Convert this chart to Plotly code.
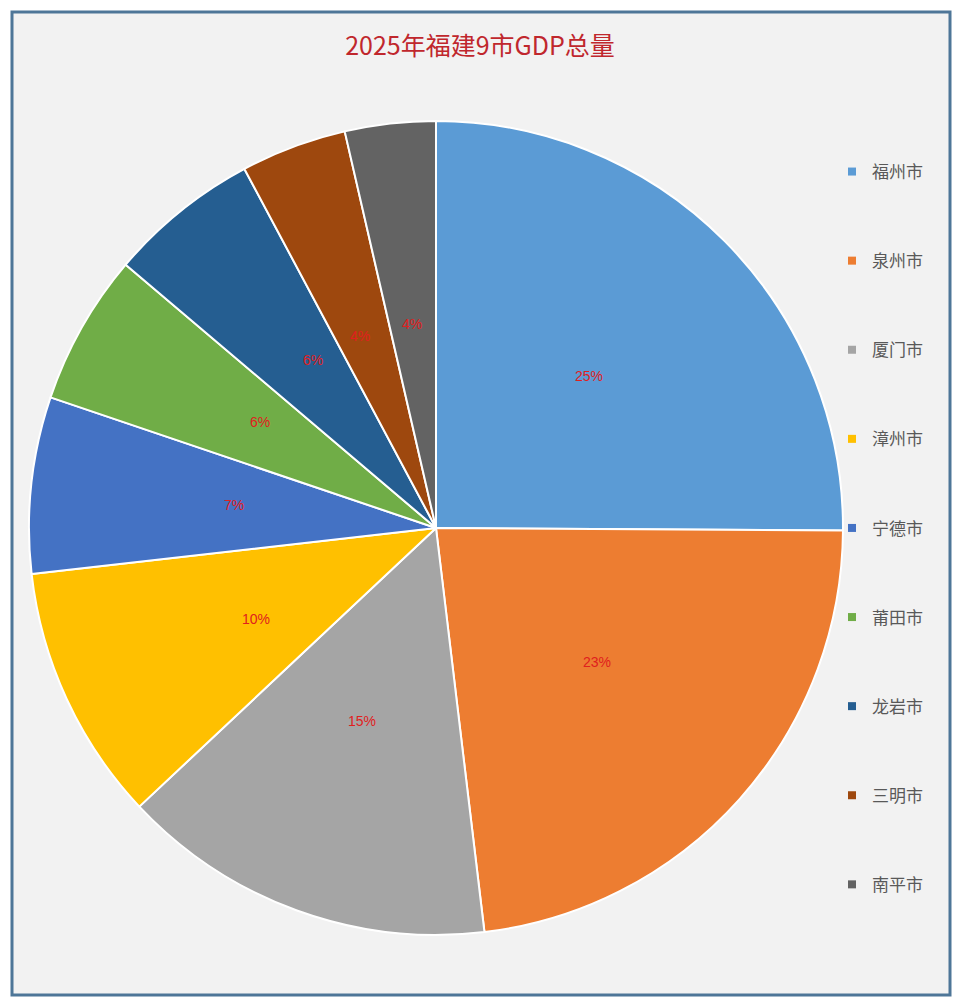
import math
import plotly.graph_objects as go

cities = ["福州市", "泉州市", "厦门市", "漳州市", "宁德市", "莆田市", "龙岩市", "三明市", "南平市"]
share = [25.1, 23.0, 14.9, 10.2, 7.0, 6.0, 6.0, 4.2, 3.6]
colors = ["#5B9BD5", "#ED7D31", "#A5A5A5", "#FFC000", "#4472C4", "#70AD47", "#255E91", "#9E480E", "#636363"]
title_text = "2025年福建9市GDP总量"

W, H = 960, 1002
ml, mr, mt, mb = 12, 10, 12, 7
pw, ph = W - ml - mr, H - mt - mb

# pie geometry (pixels)
pcx, pcy, pr = 436, 528, 407
dom_x = [(pcx - pr - ml) / pw, (pcx + pr - ml) / pw]
dom_y = [(H - mb - (pcy + pr)) / ph, (H - mb - (pcy - pr)) / ph]

fig = go.Figure()
fig.add_trace(go.Pie(
    labels=cities, values=share, sort=False, direction="clockwise", rotation=0,
    marker=dict(colors=colors, line=dict(color="white", width=2)),
    textinfo="none", showlegend=False, hoverinfo="label+percent",
    domain=dict(x=dom_x, y=dom_y),
))
for i, (c, col) in enumerate(zip(cities, colors)):
    fig.add_trace(go.Scatter(
        x=[None], y=[None], mode="markers", name=c, legendgroup=f"g{i}",
        marker=dict(symbol="square", size=8, color=col), showlegend=True,
    ))

# percentage labels near half radius along each slice's mid-angle (Excel "center" labels)
total = sum(share)
annotations = []
cum = 0.0
cx_p = (pcx - ml) / pw
cy_p = (H - mb - pcy) / ph
for v in share:
    mid = (cum + v / 2) / total * 2 * math.pi
    cum += v
    annotations.append(dict(
        x=cx_p + 0.53 * pr * math.sin(mid) / pw,
        y=cy_p + 0.53 * pr * math.cos(mid) / ph,
        xref="paper", yref="paper", showarrow=False,
        text=f"{round(v / total * 100):d}%",
        font=dict(size=14, color="#E0201E", family="Liberation Sans, Arial"),
    ))

fig.update_layout(
    width=W, height=H,
    margin=dict(l=ml, r=mr, t=mt, b=mb),
    paper_bgcolor="white", plot_bgcolor="#F2F2F2",
    xaxis=dict(visible=False), yaxis=dict(visible=False),
    title=dict(text=title_text, x=0.5, xanchor="center", y=1 - 46 / H, yanchor="middle",
               yref="container", font=dict(size=25, color="#C0272D", family="Noto Sans CJK SC")),
    legend=dict(x=(832 - ml) / pw, xanchor="left", y=(995 - 154) / ph, yanchor="top",
                font=dict(size=17, color="#595959", family="Noto Sans CJK SC"),
                tracegroupgap=64, bgcolor="rgba(0,0,0,0)"),
    annotations=annotations,
    shapes=[dict(type="rect", xref="paper", yref="paper", x0=0, x1=1, y0=0, y1=1,
                 line=dict(color="#4E7698", width=3), fillcolor="rgba(0,0,0,0)")],
)
fig.write_html("out.html")
